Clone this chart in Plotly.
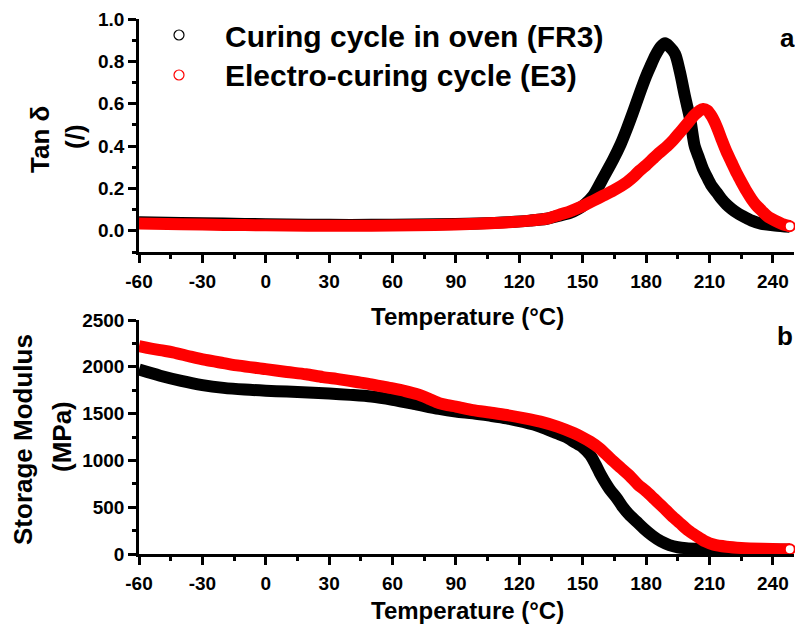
import plotly.graph_objects as go
from plotly.subplots import make_subplots

# ---- Tan delta vs temperature ----
tan_T_fr3 = [-60, -40, -20, 0, 20, 40, 60, 80, 100, 115, 125, 133, 139, 144, 148, 151, 155,
             159.7, 164.5, 168, 170.8, 174, 177, 180, 182, 184.5, 187, 189, 191, 193.7, 196,
             198.4, 201, 203, 205, 207, 209, 211, 213.5, 215.7, 218, 220.5, 223, 225.2, 228,
             230, 234.7, 241, 248]
tan_fr3 = [0.040, 0.037, 0.034, 0.031, 0.029, 0.028, 0.029, 0.031, 0.035, 0.041, 0.048, 0.057,
           0.072, 0.085, 0.104, 0.125, 0.166, 0.25, 0.338, 0.41, 0.479, 0.565, 0.65, 0.73, 0.776,
           0.83, 0.87, 0.885, 0.87, 0.835, 0.75, 0.635, 0.52, 0.40, 0.345, 0.29, 0.25, 0.213,
           0.18, 0.15, 0.125, 0.103, 0.085, 0.072, 0.058, 0.048, 0.033, 0.025, 0.019]

tan_T_e3 = [-60, -40, -20, 0, 20, 40, 60, 80, 100, 115, 125, 133, 139, 144, 148.7, 152, 155,
            159.7, 164.5, 170.8, 174, 177, 180, 183, 186, 190, 193, 196, 199, 201, 203, 205,
            207, 209, 211, 213.5, 215.7, 218, 220.5, 223, 225.2, 227.5, 229.9, 232, 234.7,
            237.5, 241, 244.5, 248]
tan_e3 = [0.034, 0.031, 0.028, 0.026, 0.024, 0.024, 0.025, 0.028, 0.033, 0.040, 0.048, 0.057,
          0.076, 0.092, 0.111, 0.127, 0.142, 0.166, 0.19, 0.229, 0.255, 0.285, 0.31, 0.338,
          0.366, 0.40, 0.43, 0.465, 0.50, 0.525, 0.548, 0.565, 0.575, 0.568, 0.541, 0.49,
          0.432, 0.375, 0.322, 0.27, 0.229, 0.188, 0.15, 0.122, 0.095, 0.068, 0.048, 0.032,
          0.022]

# ---- Storage modulus vs temperature (MPa) ----
sm_T_fr3 = [-60, -50, -40, -30, -20, -10, 0, 10, 20, 30, 40, 50, 60, 70, 82, 90, 98, 106, 114,
            122, 130, 138, 142, 146, 150, 153.5, 156, 158, 160, 163, 166, 169, 172, 175.5, 179,
            183, 187, 191, 195, 199, 205, 215, 230, 248]
sm_fr3 = [1970, 1905, 1850, 1805, 1775, 1757, 1745, 1735, 1725, 1714, 1700, 1682, 1648, 1605,
          1550, 1522, 1503, 1478, 1450, 1410, 1360, 1287, 1250, 1196, 1140, 1058, 960, 870, 790,
          684, 600, 500, 420, 345, 270, 195, 135, 95, 72, 62, 56, 52, 48, 45]

sm_T_e3 = [-60, -50, -44, -35, -28.5, -20, -12.7, 0, 10, 19, 27, 35, 43, 50, 58, 66, 72, 77, 82,
           86, 90, 98, 106, 114, 122, 130, 138, 146, 150, 153.5, 158, 163, 168, 172, 176, 180,
           184, 188, 192, 196, 200, 204, 208, 212, 218, 225, 235, 248]
sm_e3 = [2222, 2178, 2155, 2105, 2073, 2040, 2012, 1975, 1945, 1920, 1890, 1866, 1838, 1813,
         1778, 1741, 1705, 1660, 1612, 1590, 1575, 1538, 1512, 1485, 1452, 1414, 1360, 1289,
         1245, 1200, 1129, 1022, 920, 840, 745, 670, 585, 500, 410, 330, 250, 190, 135, 100,
         78, 65, 56, 50]

x_ticks = list(range(-60, 241, 30))
series_names = ["Curing cycle in oven (FR3)", "Electro-curing cycle (E3)"]
BLACK = "#000000"
RED = "#FF0000"

FONT = "Arial, Liberation Sans, sans-serif"
W, H = 795, 634
L, R, T, B = 139, 1, 19, 80
PW, PH = W - L - R, H - T - B


def px(xp):
    return (xp - L) / PW


def py(yp):
    return (H - B - yp) / PH


fig = make_subplots(rows=2, cols=1, vertical_spacing=0.0)
top_dom = [(H - B - 252) / PH, 1.0]
bot_dom = [0.0, (H - B - 320) / PH]


def band(x, y, color, row):
    fig.add_trace(go.Scatter(x=x, y=y, mode="lines", showlegend=False,
                             line=dict(color=color, width=12, shape="spline", smoothing=0.8)),
                  row=row, col=1)


def end_marker(x, y, color, row):
    fig.add_trace(go.Scatter(x=[x[-1]], y=[y[-1]], mode="markers", showlegend=False,
                             cliponaxis=False,
                             marker=dict(symbol="circle", size=10, color="white",
                                         line=dict(color=color, width=2))),
                  row=row, col=1)


band(tan_T_fr3, tan_fr3, BLACK, 1)
band(tan_T_e3, tan_e3, RED, 1)
end_marker(tan_T_e3, tan_e3, RED, 1)
band(sm_T_fr3, sm_fr3, BLACK, 2)
band(sm_T_e3, sm_e3, RED, 2)
end_marker(sm_T_e3, sm_e3, RED, 2)

axis_common = dict(showline=True, linecolor="black", linewidth=2.5, ticks="outside",
                   ticklen=8, tickwidth=2.5, tickcolor="black", showgrid=False,
                   zeroline=False, mirror=False,
                   tickfont=dict(family=FONT, size=19, color="black", weight="bold"))

for r in (1, 2):
    fig.update_xaxes(range=[-60, 250], tickvals=x_ticks, ticktext=[str(v) for v in x_ticks],
                     ticklabelstandoff=2,
                     minor=dict(ticks="outside", ticklen=4.5, tickwidth=2.5,
                                tickcolor="black", dtick=15, tick0=-60, showgrid=False),
                     row=r, col=1, **axis_common)

fig.update_yaxes(range=[-0.1, 1.0], dtick=0.2, tick0=0, tickformat=".1f",
                 minor=dict(ticks="outside", ticklen=4.5, tickwidth=2.5, tickcolor="black",
                            dtick=0.1, tick0=0, showgrid=False),
                 domain=top_dom, row=1, col=1, **axis_common)
fig.update_yaxes(range=[0, 2500], dtick=500, tick0=0,
                 minor=dict(ticks="outside", ticklen=4.5, tickwidth=2.5, tickcolor="black",
                            dtick=250, tick0=0, showgrid=False),
                 domain=bot_dom, row=2, col=1, **axis_common)

ann = []


def text(s, xp, yp, size, angle=0, xanchor="center"):
    ann.append(dict(text="<b>%s</b>" % s, x=px(xp), y=py(yp), xref="paper", yref="paper",
                    showarrow=False, textangle=angle, xanchor=xanchor, yanchor="middle",
                    font=dict(family=FONT, size=size, color="black")))


text("Temperature (°C)", 467, 316, 24)
text("Temperature (°C)", 467, 610, 24)
text("Tan δ", 40, 140, 26, -90)
text("(/)", 75, 137, 26, -90)
text("Storage Modulus", 23, 440, 26, -90)
text("(MPa)", 62, 437, 26, -90)
text("a", 797, 38, 26, xanchor="right")
text("b", 795, 336, 26, xanchor="right")

# legend: open circle + label for each series
shapes = []
for name, color, yp in ((series_names[0], BLACK, 35), (series_names[1], RED, 75)):
    shapes.append(dict(type="circle", xref="paper", yref="paper", xsizemode="pixel",
                       ysizemode="pixel", xanchor=px(179), yanchor=py(yp),
                       x0=-5, x1=5, y0=-5, y1=5, line=dict(color=color, width=1.2)))
    text(name, 223, yp + 1, 30, xanchor="left")

fig.update_layout(width=W, height=H, margin=dict(l=L, r=R, t=T, b=B),
                  paper_bgcolor="white", plot_bgcolor="white",
                  annotations=ann, shapes=shapes, showlegend=False)

fig.write_html("out.html")
